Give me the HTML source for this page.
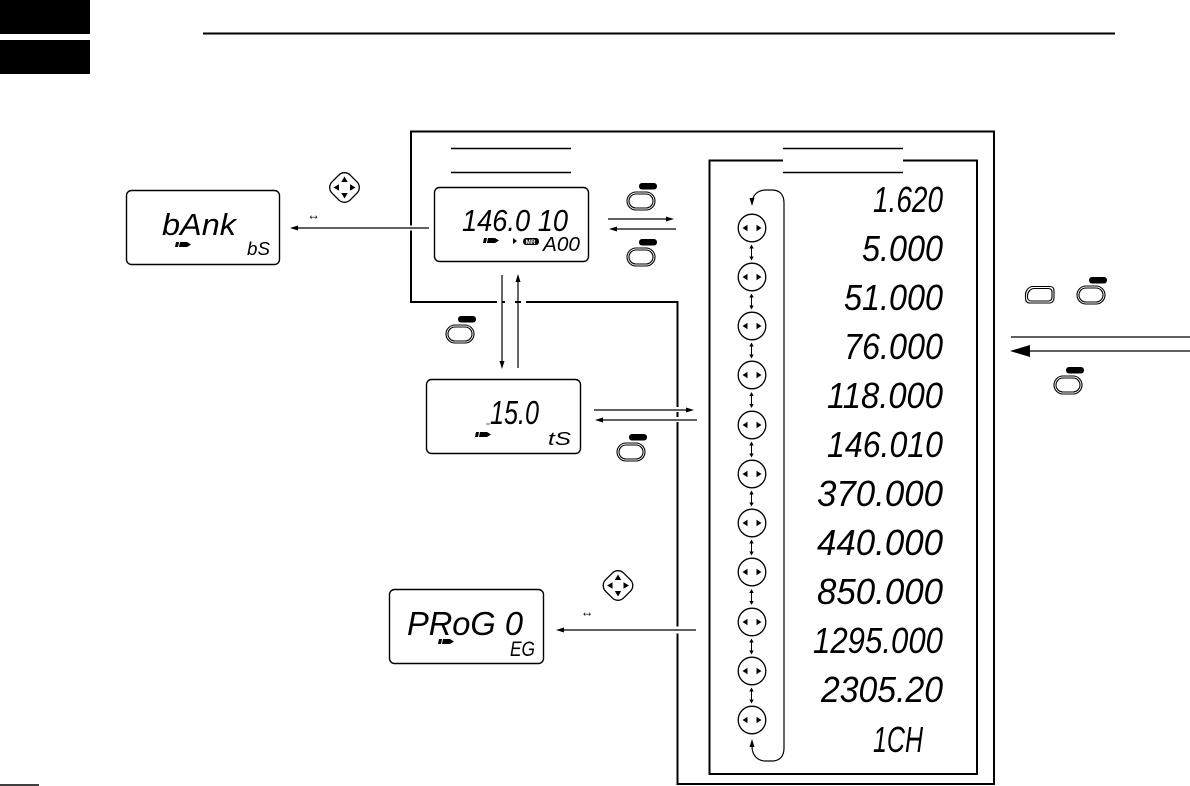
<!DOCTYPE html>
<html><head><meta charset="utf-8"><style>
html,body{margin:0;padding:0;background:#fff}
svg{display:block}
text{font-family:"Liberation Sans",sans-serif;font-style:italic;fill:#000}
</style></head><body>
<svg width="1190" height="786" viewBox="0 0 1190 786" xmlns="http://www.w3.org/2000/svg">
<defs>
<symbol id="bat" overflow="visible"><path d="M0 0h3l-1 5h-3zM4 0h7l4 2.5-4 2.5h-8z" fill="#000"/></symbol>
<g id="btn"><rect x="0" y="0" width="28" height="18" rx="9" fill="#fff" stroke="#000" stroke-width="1.1"/><rect x="2" y="2" width="24" height="14" rx="7" fill="#fff" stroke="#000" stroke-width="1.1"/><rect x="12" y="-9" width="18" height="6.5" rx="3" fill="#000"/></g>
<g id="ci"><circle r="13.8" fill="#fff" stroke="#000" stroke-width="1.3"/><path d="M-4.500-3.200v6.400l-5-3.200zM4.500-3.200v6.400l5-3.200z" fill="#000"/></g>
<g id="da"><path d="M0-6.500V6.500" stroke="#000" stroke-width="1" fill="none"/><path d="M0-8l-2.200 4h4.400zM0 8l-2.200-4h4.400z" fill="#000"/></g>
<g id="pad"><rect x="-12.800" y="-12.800" width="25.600" height="25.600" rx="8" transform="rotate(45)" fill="#fff" stroke="#000" stroke-width="1.300"/><path d="M0-11l3.200 5.500h-6.400zM0 11l-3.200-5.500h6.400zM-11 0l5.500-3.200v6.400zM11 0l-5.500-3.200v6.400z" fill="#000"/></g>
</defs>
<rect width="1190" height="786" fill="#fff"/>

<rect x="0" y="0" width="90" height="34" fill="#000"/>
<rect x="0" y="40" width="90" height="34" fill="#000"/>
<path d="M203 33.500H1115" stroke="#000" stroke-width="2"/>
<path d="M0 785H39" stroke="#000" stroke-width="1.500"/>

<path d="M411 302V131.500H994V784H677.500V302Z" fill="none" stroke="#000" stroke-width="2"/>
<path d="M709.500 160.500V774H977V160.500Z" fill="#fff" stroke="#000" stroke-width="2"/>
<rect x="783" y="155" width="120" height="12" fill="#fff"/>

<g stroke="#000" stroke-width="1.400">
<path d="M451 148.500H571M451 172.500H571M783 148.500H903M783 172.500H903"/>
</g>

<rect x="408" y="225.500" width="6" height="5" fill="#fff"/>
<rect x="497" y="299" width="5" height="7" fill="#fff"/>
<rect x="505" y="299" width="10" height="7" fill="#fff"/>
<rect x="521" y="299" width="5" height="7" fill="#fff"/>
<rect x="674" y="626.500" width="7" height="7" fill="#fff"/>
<rect x="674" y="407" width="7" height="5" fill="#fff"/>
<rect x="674" y="417" width="7" height="5" fill="#fff"/>

<g stroke="#000" stroke-width="1.200" fill="none">
<path d="M429 228H296"/>
<path d="M608 219H668"/>
<path d="M676 229H615"/>
<path d="M502 275V364"/>
<path d="M518 368V279"/>
<path d="M594 410H688"/>
<path d="M697 420H602"/>
<path d="M696 630H562"/>
<path d="M1011 337H1190"/>
<path d="M1025 351H1190"/>
<path d="M752 204C752 195 758 190 766 190H772C780 190 784 195 784 203V748C784 756 780 761 772 761H766C758 761 752 756 752 746"/>
</g>
<g fill="#000">
<path d="M290 228l8-2.500v5z"/>
<path d="M674 219l-8-2.500v5z"/>
<path d="M609 229l8-2.500v5z"/>
<path d="M502 369l-2.500-8h5z"/>
<path d="M518 274l-2.500 8h5z"/>
<path d="M694 410l-8-2.500v5z"/>
<path d="M595 420l8-2.500v5z"/>
<path d="M556 630l8-2.500v5z"/>
<path d="M1010 351l20-6v12z"/>
<path d="M752 206l-2.500-8h5z"/>
<path d="M752 739l-2.500 8h5z"/>
</g>

<g fill="#fff" stroke="#000" stroke-width="1.400">
<rect x="126.500" y="190.500" width="153" height="74" rx="5"/>
<rect x="434.500" y="187.500" width="154" height="74" rx="5"/>
<rect x="426.500" y="379.500" width="154" height="74" rx="5"/>
<rect x="389.500" y="589.500" width="154" height="74" rx="5"/>
</g>

<use href="#btn" x="627" y="192"/>
<use href="#btn" x="627" y="248"/>
<use href="#btn" x="446" y="325"/>
<use href="#btn" x="617" y="443"/>
<use href="#btn" x="1077" y="286"/>
<use href="#btn" x="1054" y="376"/>
<path d="M1033 286.500H1050C1053 286.500 1054 288 1054 291V298C1054 301 1052 303 1050 303H1030C1027 303 1025.500 301 1025.500 298V294C1026 290 1029 286.500 1033 286.500Z" fill="#fff" stroke="#000" stroke-width="1.100"/>
<path d="M1034 288.500H1048C1051 288.500 1052 290 1052 292V297C1052 299.500 1050.500 301 1048 301H1031C1029 301 1027.500 299.500 1027.500 297V295C1028 291.500 1031 288.500 1034 288.500Z" fill="#fff" stroke="#000" stroke-width="1.100"/>

<use href="#pad" x="344.500" y="187.500"/>
<use href="#pad" x="618" y="585.500"/>
<text x="307" y="219.500" font-size="14" textLength="13" lengthAdjust="spacingAndGlyphs" style="font-style:normal">↔</text>
<text x="580.500" y="616.500" font-size="14" textLength="13" lengthAdjust="spacingAndGlyphs" style="font-style:normal">↔</text>

<use href="#ci" x="752" y="228"/><use href="#ci" x="752" y="277"/><use href="#ci" x="752" y="326"/><use href="#ci" x="752" y="375"/><use href="#ci" x="752" y="425"/><use href="#ci" x="752" y="474"/><use href="#ci" x="752" y="523"/><use href="#ci" x="752" y="572"/><use href="#ci" x="752" y="622"/><use href="#ci" x="752" y="671"/><use href="#ci" x="752" y="720"/>
<use href="#da" x="751.500" y="252.500"/><use href="#da" x="751.500" y="301.500"/><use href="#da" x="751.500" y="350.500"/><use href="#da" x="751.500" y="400"/><use href="#da" x="751.500" y="449.500"/><use href="#da" x="751.500" y="498.500"/><use href="#da" x="751.500" y="547.500"/><use href="#da" x="751.500" y="597"/><use href="#da" x="751.500" y="646.500"/><use href="#da" x="751.500" y="695.500"/>

<g font-size="36">
<text x="873" y="212" textLength="70" lengthAdjust="spacingAndGlyphs">1.620</text>
<text x="862" y="261" textLength="81" lengthAdjust="spacingAndGlyphs">5.000</text>
<text x="844" y="310" textLength="99" lengthAdjust="spacingAndGlyphs">51.000</text>
<text x="844" y="359" textLength="99" lengthAdjust="spacingAndGlyphs">76.000</text>
<text x="827" y="408" textLength="116" lengthAdjust="spacingAndGlyphs">118.000</text>
<text x="827" y="457" textLength="116" lengthAdjust="spacingAndGlyphs">146.010</text>
<text x="817" y="506" textLength="126" lengthAdjust="spacingAndGlyphs">370.000</text>
<text x="817" y="555" textLength="126" lengthAdjust="spacingAndGlyphs">440.000</text>
<text x="817" y="604" textLength="126" lengthAdjust="spacingAndGlyphs">850.000</text>
<text x="813" y="653" textLength="130" lengthAdjust="spacingAndGlyphs">1295.000</text>
<text x="821" y="702" textLength="122" lengthAdjust="spacingAndGlyphs">2305.20</text>
<text x="873" y="752" textLength="50" lengthAdjust="spacingAndGlyphs">1CH</text>
</g>

<text x="162" y="235" font-size="31" textLength="74" lengthAdjust="spacingAndGlyphs">bAnk</text>
<text x="247" y="255" font-size="18" textLength="23" lengthAdjust="spacingAndGlyphs">bS</text>
<use href="#bat" x="176" y="242"/>

<text x="462" y="231" font-size="31" textLength="106" lengthAdjust="spacingAndGlyphs">146.0 10</text>
<use href="#bat" x="484" y="238"/>
<path d="M513 238l4 3-4 3z" fill="#000"/>
<rect x="523" y="238" width="16" height="7" rx="3" fill="#000"/>
<text x="525.500" y="244" font-size="6.500" font-weight="bold" style="font-style:normal;fill:#fff">MR</text>
<text x="543" y="251" font-size="20" textLength="37" lengthAdjust="spacingAndGlyphs">A00</text>

<text x="490" y="424" font-size="33" textLength="49" lengthAdjust="spacingAndGlyphs">15.0</text>
<path d="M486 424h4" stroke="#000" stroke-width="1" opacity=".6"/>
<text x="548" y="445" font-size="18" textLength="23" lengthAdjust="spacingAndGlyphs">tS</text>
<use href="#bat" x="476" y="432"/>

<text x="407" y="635" font-size="33" textLength="116" lengthAdjust="spacingAndGlyphs" xml:space="preserve">PRoG 0</text>
<text x="510" y="656" font-size="21" textLength="25" lengthAdjust="spacingAndGlyphs">EG</text>
<use href="#bat" x="439" y="639"/>
</svg>
</body></html>
